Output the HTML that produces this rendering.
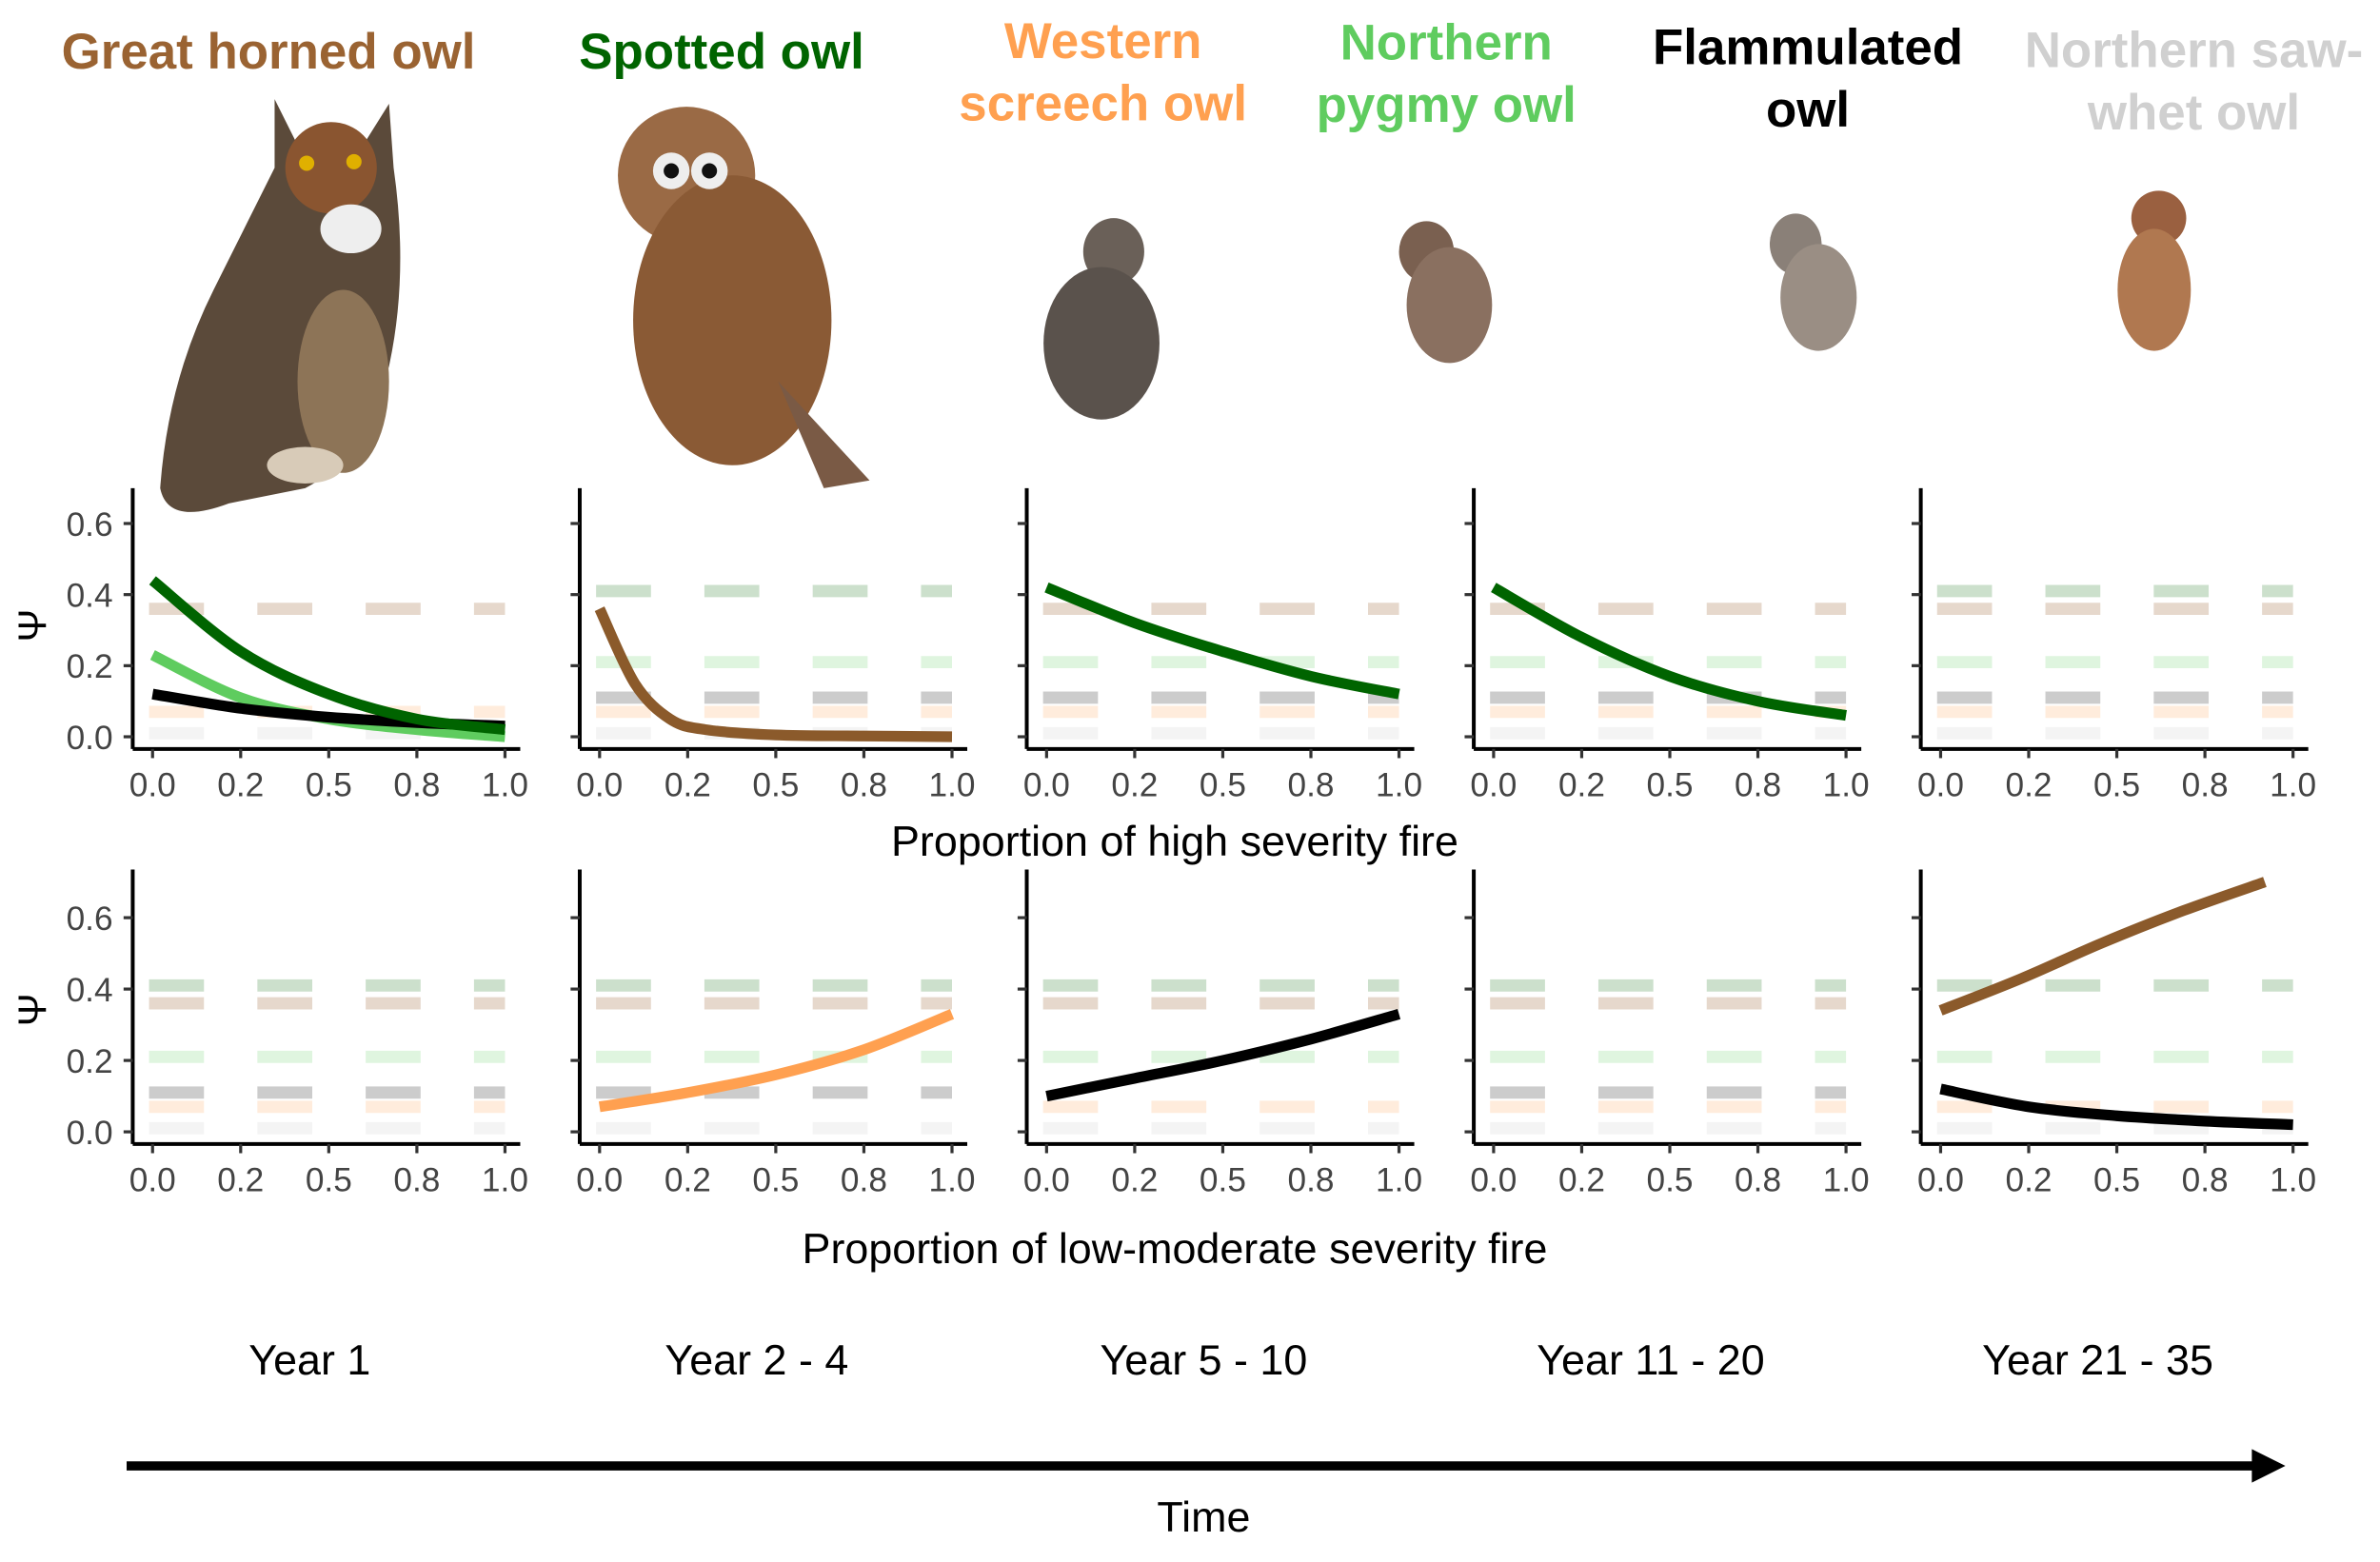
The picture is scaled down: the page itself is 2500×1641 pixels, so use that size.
<!DOCTYPE html>
<html><head><meta charset="utf-8"><style>
html,body{margin:0;padding:0;background:#fff;}
svg{display:block;font-family:"Liberation Sans",Arial,sans-serif;}
</style></head><body>
<svg id="fig" width="2500" height="1641" viewBox="0 0 1560 1024" preserveAspectRatio="none">
<g font-weight="bold" font-size="33" text-anchor="middle">
<text x="176" y="45" fill="#9a6332">Great horned owl</text>
<text x="473" y="45" fill="#006400">Spotted owl</text>
<text x="723" y="38" fill="#ffa050"><tspan x="723">Western</tspan><tspan x="723" dy="41">screech owl</tspan></text>
<text x="948" y="39" fill="#5fcc5f"><tspan x="948">Northern</tspan><tspan x="948" dy="41">pygmy owl</tspan></text>
<text x="1185" y="42" fill="#000"><tspan x="1185">Flammulated</tspan><tspan x="1185" dy="41">owl</tspan></text>
<text x="1438" y="44" fill="#d0d0d0"><tspan x="1438">Northern saw-</tspan><tspan x="1438" dy="41">whet owl</tspan></text>
</g>
<g>
<g>
<path d="M180 65 L195 95 L240 92 L255 68 L258 110 Q268 180 255 240 Q240 300 200 320 L150 330 Q110 345 105 320 Q110 250 140 190 Q165 140 180 110 Z" fill="#5b4a3a"/>
<ellipse cx="217" cy="110" rx="30" ry="30" fill="#8a5530"/>
<ellipse cx="230" cy="150" rx="20" ry="16" fill="#eee"/>
<ellipse cx="225" cy="250" rx="30" ry="60" fill="#8d7457"/>
<circle cx="201" cy="107" r="5" fill="#e0b000"/><circle cx="232" cy="106" r="5" fill="#e0b000"/>
<ellipse cx="200" cy="305" rx="25" ry="12" fill="#d8cbb8"/>
</g>
<g>
<ellipse cx="450" cy="115" rx="45" ry="45" fill="#9a6a45"/>
<ellipse cx="480" cy="210" rx="65" ry="95" fill="#8a5a35"/>
<path d="M510 250 L570 315 L540 320 Z" fill="#7a5a45"/>
<circle cx="440" cy="112" r="12" fill="#eee"/><circle cx="465" cy="112" r="12" fill="#eee"/>
<circle cx="440" cy="112" r="5" fill="#111"/><circle cx="465" cy="112" r="5" fill="#111"/>
</g>
<g>
<ellipse cx="730" cy="165" rx="20" ry="22" fill="#6a6058"/>
<ellipse cx="722" cy="225" rx="38" ry="50" fill="#5a524c"/>
</g>
<g>
<ellipse cx="935" cy="165" rx="18" ry="20" fill="#7a6050"/>
<ellipse cx="950" cy="200" rx="28" ry="38" fill="#8a7060"/>
</g>
<g>
<ellipse cx="1177" cy="160" rx="17" ry="20" fill="#8a8078"/>
<ellipse cx="1192" cy="195" rx="25" ry="35" fill="#9a8e84"/>
</g>
<g>
<ellipse cx="1415" cy="143" rx="18" ry="18" fill="#9a6040"/>
<ellipse cx="1412" cy="190" rx="24" ry="40" fill="#b07850"/>
</g>
</g>
<g id="panels"></g>
<g font-size="28" text-anchor="middle" fill="#000">
<text x="770" y="561">Proportion of high severity fire</text>
<text x="770" y="828">Proportion of low-moderate severity fire</text>
<text x="203" y="901">Year 1</text>
<text x="496" y="901">Year 2 - 4</text>
<text x="789" y="901">Year 5 - 10</text>
<text x="1082" y="901">Year 11 - 20</text>
<text x="1375" y="901">Year 21 - 35</text>
<text x="789" y="1004">Time</text>
</g>
<g>
<line x1="83" y1="961" x2="1478" y2="961" stroke="#000" stroke-width="6"/>
<polygon points="1476,950 1498,961 1476,972" fill="#000"/>
</g>
</svg>
<script>
const xsStd = [0, 0.25, 0.5, 0.75, 1];
const xsSteep = [0, 0.1, 0.2, 0.3, 0.5, 0.75, 1];
const xsSaw = [0, 0.23, 0.46, 0.69, 0.92];
const refNames = ['spotted', 'greathorned', 'pygmy', 'flammulated', 'screech', 'sawwhet'];
const refValues = [0.41, 0.36, 0.21, 0.11, 0.07, 0.01];
const refColors = ['rgba(0,100,0,0.2)', 'rgba(154,99,50,0.25)', 'rgba(95,204,95,0.2)', 'rgba(0,0,0,0.2)', 'rgba(255,160,80,0.2)', 'rgba(200,200,200,0.2)'];
const curveColors = {spotted:'#006400', greathorned:'#8b5a2b', pygmy:'#5fcc5f', flammulated:'#000', screech:'#ffa050'};
const panelRefs = [
  [['greathorned','screech','sawwhet'], ['spotted','pygmy','flammulated','screech','sawwhet'], ['greathorned','pygmy','flammulated','screech','sawwhet'], ['greathorned','pygmy','flammulated','screech','sawwhet'], refNames],
  [refNames, ['spotted','greathorned','pygmy','flammulated','sawwhet'], ['spotted','greathorned','pygmy','screech','sawwhet'], refNames, ['spotted','pygmy','screech','sawwhet']]
];
const p1Spotted = [0.44, 0.24, 0.12, 0.05, 0.02];
const p1Pygmy = [0.23, 0.11, 0.05, 0.02, 0.0];
const p1Flam = [0.12, 0.08, 0.055, 0.04, 0.03];
const p2GreatHorned = [0.36, 0.15, 0.05, 0.02, 0.005, 0.002, 0.0];
const p3Spotted = [0.42, 0.32, 0.24, 0.17, 0.12];
const p4Spotted = [0.42, 0.28, 0.17, 0.10, 0.06];
const b2Screech = [0.07, 0.11, 0.16, 0.23, 0.33];
const b3Flam = [0.10, 0.15, 0.20, 0.26, 0.33];
const b5GreatHorned = [0.34, 0.43, 0.53, 0.62, 0.70];
const b5Flam = [0.12, 0.07, 0.045, 0.03, 0.02];
const panelCurves = [
  [[['pygmy',xsStd,p1Pygmy],['flammulated',xsStd,p1Flam],['spotted',xsStd,p1Spotted]], [['greathorned',xsSteep,p2GreatHorned]], [['spotted',xsStd,p3Spotted]], [['spotted',xsStd,p4Spotted]], []],
  [[], [['screech',xsStd,b2Screech]], [['flammulated',xsStd,b3Flam]], [], [['greathorned',xsSaw,b5GreatHorned],['flammulated',xsStd,b5Flam]]]
];
const yTicks = [0, 0.2, 0.4, 0.6];
const xTickVals = [0, 0.25, 0.5, 0.75, 1];
const xTickLabels = ['0.0', '0.2', '0.5', '0.8', '1.0'];

const NS = 'http://www.w3.org/2000/svg';
const root = document.getElementById('panels');
const axisX = [87, 380, 673, 966, 1259];
const rowY0 = [483, 742];
const rowK = [233, 234];
function mk(tag, attrs, parent){ const e=document.createElementNS(NS,tag); for(const k in attrs) e.setAttribute(k,attrs[k]); parent.appendChild(e); return e; }
function smooth(pts){
  let d = 'M'+pts[0][0].toFixed(1)+' '+pts[0][1].toFixed(1);
  for (let i=0;i<pts.length-1;i++){
    const p0=pts[Math.max(0,i-1)], p1=pts[i], p2=pts[i+1], p3=pts[Math.min(pts.length-1,i+2)];
    const c1=[p1[0]+(p2[0]-p0[0])/6, p1[1]+(p2[1]-p0[1])/6];
    const c2=[p2[0]-(p3[0]-p1[0])/6, p2[1]-(p3[1]-p1[1])/6];
    d += ' C'+c1[0].toFixed(1)+' '+c1[1].toFixed(1)+' '+c2[0].toFixed(1)+' '+c2[1].toFixed(1)+' '+p2[0].toFixed(1)+' '+p2[1].toFixed(1);
  }
  return d;
}
for (let r=0;r<2;r++){
  for (let c=0;c<5;c++){
    const ax = axisX[c];
    const sx = v => ax + 13 + v*231;
    const sy = v => rowY0[r] - v*rowK[r];
    const g = mk('g',{},root);
    
    
    panelRefs[r][c].forEach(nm => {
      const i = refNames.indexOf(nm);
      const l = mk('line',{x1:sx(-0.01),x2:sx(1.0),y1:sy(refValues[i]),y2:sy(refValues[i]),stroke:refColors[i],'stroke-width':8,'stroke-dasharray':'36 35'},g);
      
      
    });
    panelCurves[r][c].forEach(([nm,xs,ys]) => {
      const pts = xs.map((x,i)=>[sx(x), sy(ys[i])]);
      const p = mk('path',{d:smooth(pts),fill:'none',stroke:curveColors[nm],'stroke-width':7,'stroke-linejoin':'round'},g);
      
      
    });
    const top = r===0?320:570;
    const bot = rowY0[r]+8;
    const ya = mk('line',{x1:ax,x2:ax,y1:top,y2:bot,stroke:'#000','stroke-width':2.5},g);
    
    
    const xa = mk('line',{x1:ax,x2:ax+254,y1:bot,y2:bot,stroke:'#000','stroke-width':2.5},g);
    
    
    yTicks.forEach(t => {
      mk('line',{x1:ax-6,x2:ax,y1:sy(t),y2:sy(t),stroke:'#333','stroke-width':2},g);
      if (c===0){
        const tx = mk('text',{x:ax-13,y:sy(t)+8,'font-size':22,fill:'#444','text-anchor':'end'},g);
        tx.textContent = t.toFixed(1);
        
        
      }
    });
    xTickVals.forEach((t,i) => {
      mk('line',{x1:sx(t),x2:sx(t),y1:bot,y2:bot+6,stroke:'#333','stroke-width':2},g);
      const tx = mk('text',{x:sx(t),y:bot+31,'font-size':22,fill:'#444','text-anchor':'middle'},g);
      tx.textContent = xTickLabels[i];
      
      
    });
    if (c===0){
      const yl = mk('text',{x:0,y:0,'font-size':26,fill:'#000','text-anchor':'middle',transform:'translate(30,'+(r===0?410:662)+') rotate(-90)'},g);
      yl.textContent = 'Ψ';
      
      
    }
  }
}
</script>
</body></html>
